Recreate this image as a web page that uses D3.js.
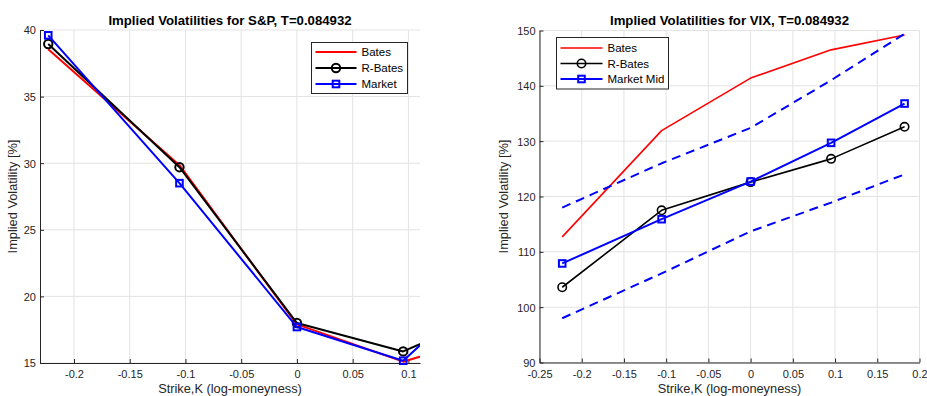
<!DOCTYPE html>
<html>
<head>
<meta charset="utf-8">
<script src="https://cdn.jsdelivr.net/npm/d3@7"></script>
<style>
  body { margin: 0; background: #fff; }
  svg { display: block; font-family: "Liberation Sans", Arial, sans-serif; }
</style>
</head>
<body>
<svg id="chart" width="927" height="396"></svg>
<script>
"use strict";
// strikes are log-moneyness ln(K/S)
var strikes = [-0.2231, -0.1054, 0, 0.0953, 0.1823];

// S&P implied vols [%]
var spxBates = [38.55, 29.85, 17.9, 15.1, 17.3];
var spxRBates = [38.95, 29.7, 18.0, 15.87, 19.0];
var spxMarket = [39.6, 28.5, 17.7, 15.17, 21.8];

// VIX implied vols [%]
var vixBates = [112.7, 131.9, 141.4, 146.5, 149.2];
var vixRBates = [103.6, 117.5, 122.6, 126.8, 132.6];
var vixMid = [107.9, 115.9, 122.7, 129.7, 136.8];
var vixAsk = [118.0, 126.0, 132.4, 141.0, 149.4];
var vixBid = [98.0, 106.1, 113.7, 118.9, 124.0];

var spxXTicks = [-0.2, -0.15, -0.1, -0.05, 0, 0.05, 0.1];
var spxXLabels = ["-0.2", "-0.15", "-0.1", "-0.05", "0", "0.05", "0.1"];
var spxYTicks = [15, 20, 25, 30, 35, 40];
var vixXTicks = [-0.25, -0.2, -0.15, -0.1, -0.05, 0, 0.05, 0.1, 0.15, 0.2];
var vixXLabels = ["-0.25", "-0.2", "-0.15", "-0.1", "-0.05", "0", "0.05", "0.1", "0.15", "0.2"];
var vixYTicks = [90, 100, 110, 120, 130, 140, 150];

var svg = d3.select("#chart");
var axisColor = "#262626";

function drawPanel(p) {
    var x = d3.scaleLinear().domain(p.xDomain).range([p.left, p.right]);
    var y = d3.scaleLinear().domain(p.yDomain).range([p.bottom, p.top]);
    var g = svg.append("g");

    // grid
    g.selectAll("line.gx").data(p.xTicks).enter().append("line")
        .attr("x1", function (d) { return x(d); }).attr("x2", function (d) { return x(d); })
        .attr("y1", p.top).attr("y2", p.bottom)
        .attr("stroke", "#e3e3e3").attr("stroke-width", 1);
    g.selectAll("line.gy").data(p.yTicks).enter().append("line")
        .attr("y1", function (d) { return y(d); }).attr("y2", function (d) { return y(d); })
        .attr("x1", p.left).attr("x2", p.right)
        .attr("stroke", "#e3e3e3").attr("stroke-width", 1);

    // axes lines with inward ticks
    var xa = d3.axisBottom(x).tickValues(p.xTicks).tickSizeInner(-4).tickSizeOuter(0)
        .tickFormat(function (d, i) { return p.xLabels[i]; });
    var ya = d3.axisLeft(y).tickValues(p.yTicks).tickSizeInner(-4).tickSizeOuter(0)
        .tickFormat(function (d) { return String(d); });
    var gx = g.append("g").attr("transform", "translate(0," + p.bottom + ")").call(xa);
    var gy = g.append("g").attr("transform", "translate(" + p.left + ",0)").call(ya);
    [gx, gy].forEach(function (a) {
        a.select(".domain").attr("stroke", axisColor).attr("stroke-width", 1);
        a.selectAll(".tick line").attr("stroke", axisColor);
        a.selectAll("text").attr("fill", axisColor).style("font-size", "11px")
            .style("font-family", "'Liberation Sans', Arial, sans-serif");
    });
    gx.selectAll("text").attr("dy", null).attr("y", 15);
    gy.selectAll("text").attr("x", -4).attr("dy", "0.35em");

    // titles
    g.append("text").attr("x", (p.left + p.right) / 2).attr("y", 24.5)
        .attr("text-anchor", "middle").attr("font-weight", "bold").attr("font-size", "13.2px")
        .attr("fill", "#000").text(p.title);
    g.append("text").attr("x", (p.left + p.right) / 2).attr("y", 393)
        .attr("text-anchor", "middle").attr("font-size", "12.8px").attr("fill", axisColor)
        .text("Strike,K (log-moneyness)");
    g.append("text").attr("transform", "translate(" + p.ylabelX + "," + ((p.top + p.bottom) / 2) + ") rotate(-90)")
        .attr("text-anchor", "middle").attr("font-size", "12.8px").attr("fill", axisColor)
        .text("Implied Volatility [%]");

    // data
    var clipId = "clip" + p.id;
    svg.append("clipPath").attr("id", clipId).append("rect")
        .attr("x", p.left).attr("y", p.top - 6).attr("width", p.right - p.left).attr("height", p.bottom - p.top + 6);
    var plot = g.append("g");
    var lineGen = d3.line().x(function (d) { return x(d[0]); }).y(function (d) { return y(d[1]); });

    p.series.forEach(function (s) {
        var pts = strikes.map(function (k, i) { return [k, s.values[i]]; });
        plot.append("path").attr("d", lineGen(pts))
            .attr("clip-path", "url(#" + clipId + ")")
            .style("fill", "none").style("stroke", s.color).style("stroke-width", s.width)
            .style("stroke-dasharray", s.dash || null).style("stroke-linejoin", "round");
        var vis = pts.filter(function (d) { return d[0] <= p.xDomain[1]; });
        drawMarkers(plot, vis.map(function (d) { return [x(d[0]), y(d[1])]; }), s);
    });

    // legend
    var lg = g.append("g");
    lg.append("rect").attr("x", p.legend.x).attr("y", p.legend.y)
        .attr("width", p.legend.w).attr("height", p.legend.h)
        .attr("fill", "#fff").attr("stroke", axisColor).attr("stroke-width", 1);
    p.series.filter(function (s) { return s.label; }).forEach(function (s, i) {
        var ly = p.legend.y + p.legend.first + i * p.legend.step;
        lg.append("line").attr("x1", p.legend.x + 4).attr("x2", p.legend.x + p.legend.lineLen + 4)
            .attr("y1", ly).attr("y2", ly)
            .attr("stroke", s.color).attr("stroke-width", s.width);
        drawMarkers(lg, [[p.legend.x + 4 + p.legend.lineLen / 2, ly]], s);
        lg.append("text").attr("x", p.legend.x + p.legend.lineLen + 9).attr("y", ly)
            .attr("dy", "0.35em").attr("font-size", "11.5px").attr("fill", "#000").text(s.label);
    });
}

function drawMarkers(parent, pts, s) {
    if (s.marker === "circle") {
        parent.selectAll(null).data(pts).enter().append("circle")
            .attr("cx", function (d) { return d[0]; }).attr("cy", function (d) { return d[1]; })
            .attr("r", 4.2).attr("fill", "none").attr("stroke", s.color).attr("stroke-width", s.width);
    } else if (s.marker === "square") {
        parent.selectAll(null).data(pts).enter().append("rect")
            .attr("x", function (d) { return d[0] - 3.3; }).attr("y", function (d) { return d[1] - 3.3; })
            .attr("width", 6.6).attr("height", 6.6)
            .attr("fill", "none").attr("stroke", s.color).attr("stroke-width", s.width);
    }
}

drawPanel({
    id: "spx", left: 40, right: 420, top: 30, bottom: 363,
    xDomain: [-0.2305, 0.1104], yDomain: [15, 40],
    xTicks: spxXTicks, xLabels: spxXLabels, yTicks: spxYTicks,
    title: "Implied Volatilities for S&P, T=0.084932", ylabelX: 17,
    legend: { x: 311.5, y: 42.5, w: 96, h: 51, first: 9.5, step: 16, lineLen: 41 },
    series: [
        { label: "Bates", values: spxBates, color: "#ff0000", width: 2 },
        { label: "R-Bates", values: spxRBates, color: "#000000", width: 2, marker: "circle" },
        { label: "Market", values: spxMarket, color: "#0000ff", width: 2, marker: "square" }
    ]
});

drawPanel({
    id: "vix", left: 539.5, right: 919.5, top: 30.5, bottom: 362.5,
    xDomain: [-0.25, 0.2], yDomain: [90, 150],
    xTicks: vixXTicks, xLabels: vixXLabels, yTicks: vixYTicks,
    title: "Implied Volatilities for VIX, T=0.084932", ylabelX: 508,
    legend: { x: 556.5, y: 37.5, w: 112, h: 51.5, first: 10.5, step: 15.5, lineLen: 42 },
    series: [
        { label: "Bates", values: vixBates, color: "#ff0000", width: 1.6 },
        { label: "R-Bates", values: vixRBates, color: "#000000", width: 1.6, marker: "circle" },
        { label: "Market Mid", values: vixMid, color: "#0000ff", width: 2, marker: "square" },
        { values: vixAsk, color: "#0000ff", width: 2, dash: "9,6" },
        { values: vixBid, color: "#0000ff", width: 2, dash: "9,6" }
    ]
});
</script>
</body>
</html>
